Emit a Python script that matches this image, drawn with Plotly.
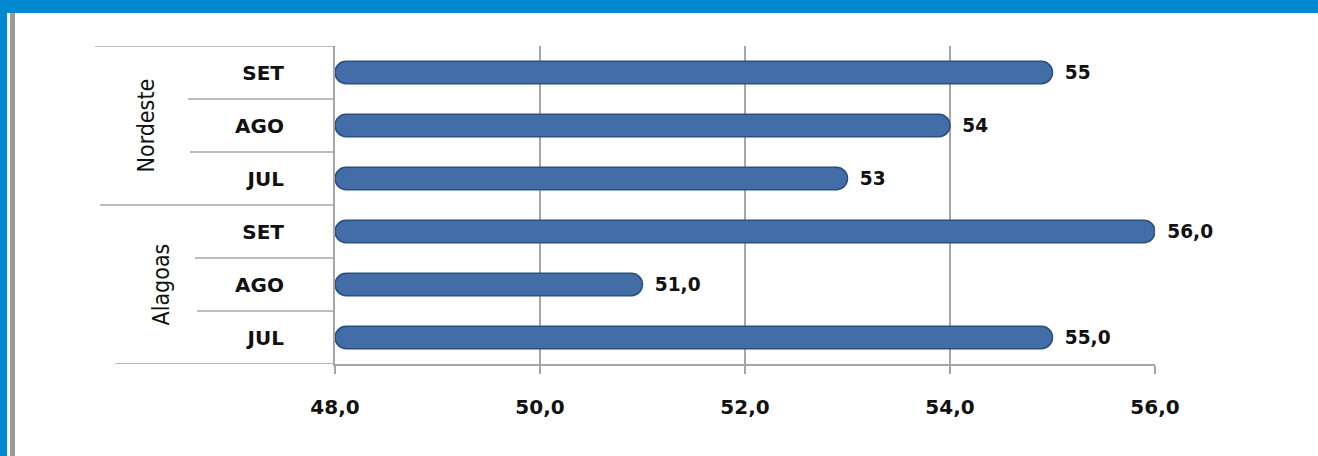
import plotly.graph_objects as go

# ---- data ----
regions = ["Alagoas", "Alagoas", "Alagoas", "Nordeste", "Nordeste", "Nordeste"]
months = ["JUL", "AGO", "SET", "JUL", "AGO", "SET"]
values = [55.0, 51.0, 56.0, 53, 54, 55]
value_labels = ["55,0", "51,0", "56,0", "53", "54", "55"]
x_ticks = [48, 50, 52, 54, 56]
x_tick_labels = ["48,0", "50,0", "52,0", "54,0", "56,0"]
group_names = ["Alagoas", "Nordeste"]
axis_min, axis_max = 48, 56

W, H = 1318, 456
ML, MR, MT, MB = 335, 163, 46, 92
PW, PH = W - ML - MR, H - MT - MB

def px_x(p):  # pixel -> paper x
    return (p - ML) / PW

def px_y(p):  # pixel (from top) -> paper y
    return 1 - (p - MT) / PH

ypos = list(range(len(values)))

fig = go.Figure()
fig.add_trace(go.Bar(
    y=ypos,
    x=[v - axis_min for v in values],
    base=axis_min,
    orientation="h",
    width=0.42,
    marker=dict(color="#426DA6", line=dict(color="#2A4F82", width=1.5), cornerradius="50%"),
    text=value_labels,
    texttemplate="\u2002%{text}",
    textposition="outside",
    cliponaxis=False,
    textfont=dict(family="DejaVu Sans", size=20, color="#111111", weight="bold"),
    hoverinfo="skip",
))

shapes = []
# blue frame
shapes.append(dict(type="rect", xref="paper", yref="paper", x0=px_x(0), x1=px_x(W), y0=px_y(13), y1=px_y(0),
                   fillcolor="#0089D0", line_width=0, layer="above"))
shapes.append(dict(type="rect", xref="paper", yref="paper", x0=px_x(0), x1=px_x(7), y0=px_y(H), y1=px_y(0),
                   fillcolor="#0089D0", line_width=0, layer="above"))
shapes.append(dict(type="rect", xref="paper", yref="paper", x0=px_x(10), x1=px_x(15), y0=px_y(H), y1=px_y(13),
                   fillcolor="#9A9A9A", line_width=0, layer="above"))

# category divider lines in the label area
for yb, xs in [(5.5, 95), (2.5, 100), (-0.5, 115), (4.5, 188), (3.5, 190), (1.5, 195), (0.5, 197)]:
    shapes.append(dict(type="line", xref="paper", yref="y", x0=px_x(xs), x1=0, y0=yb, y1=yb,
                       line=dict(color="#A6A6A6", width=1.5)))

annotations = []
for i, g in enumerate(group_names):
    idx = [k for k, r in enumerate(regions) if r == g]
    annotations.append(dict(
        x=px_x(130 if g == "Nordeste" else 145), xref="paper",
        y=sum(idx) / len(idx), yref="y",
        text=g, textangle=-90, showarrow=False,
        font=dict(family="DejaVu Sans Condensed, Liberation Sans Narrow, DejaVu Sans", size=23, color="#111111"),
    ))

fig.update_layout(
    width=W, height=H,
    margin=dict(l=ML, r=MR, t=MT, b=MB),
    paper_bgcolor="white", plot_bgcolor="white",
    showlegend=False,
    shapes=shapes,
    annotations=annotations,
    xaxis=dict(
        range=[axis_min, axis_max],
        tickvals=x_ticks, ticktext=x_tick_labels,
        showgrid=True, gridcolor="#A6A6A6", gridwidth=2,
        showline=True, linecolor="#A6A6A6", linewidth=2,
        ticks="outside", tickcolor="#A6A6A6", ticklen=8, tickwidth=2,
        ticklabelstandoff=16,
        tickfont=dict(family="DejaVu Sans", size=20, color="#111111", weight="bold"),
        zeroline=False, fixedrange=True,
    ),
    yaxis=dict(
        range=[-0.5, 5.5],
        tickvals=ypos, ticktext=months,
        showgrid=False, zeroline=False,
        showline=True, linecolor="#A6A6A6", linewidth=2,
        ticks="", ticklabelstandoff=45,
        tickfont=dict(family="DejaVu Sans", size=20, color="#111111", weight="bold"),
        fixedrange=True,
    ),
)

fig.write_html("out.html", config={"displayModeBar": False},
               post_script="document.body.style.margin='0';document.body.style.padding='0';")
